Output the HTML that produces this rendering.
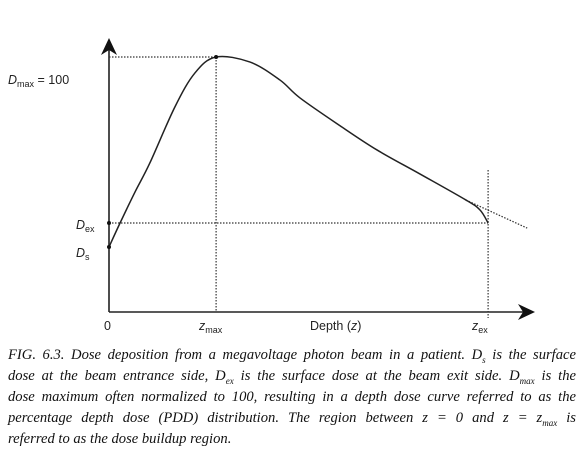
<!DOCTYPE html>
<html><head><meta charset="utf-8"><style>
body{margin:0;width:588px;height:447px;background:#fff;overflow:hidden;position:relative}
svg{position:absolute;left:0;top:0}
.cap{position:absolute;left:8px;width:568px;font-family:"Liberation Serif",serif;font-style:italic;font-size:14.6px;color:#111}
.cap div{height:21px;line-height:21px;text-align:justify;text-align-last:justify;white-space:nowrap}
.cap div.last{text-align-last:left}
</style></head><body>
<svg width="588" height="340" font-family="Liberation Sans, sans-serif" fill="#222">
<g id="axes"></g>
<g id="marks"></g>
<text x="8" y="84" font-size="12.5"><tspan font-style="italic">D</tspan><tspan font-size="9" dy="3">max</tspan><tspan dy="-3"> = 100</tspan></text>
<text x="76" y="229" font-size="12.5"><tspan font-style="italic">D</tspan><tspan font-size="9" dy="3">ex</tspan></text>
<text x="76" y="257" font-size="12.5"><tspan font-style="italic">D</tspan><tspan font-size="9" dy="3">s</tspan></text>
<text x="104" y="330" font-size="12.5">0</text>
<text x="199" y="330" font-size="12.5"><tspan font-style="italic">z</tspan><tspan font-size="9" dy="3">max</tspan></text>
<text x="310" y="330" font-size="12.5">Depth (<tspan font-style="italic">z</tspan>)</text>
<text x="472" y="330" font-size="12.5"><tspan font-style="italic">z</tspan><tspan font-size="9" dy="3">ex</tspan></text>
</svg>
<div class="cap" style="top:345px">
<div>FIG. 6.3. Dose deposition from a megavoltage photon beam in a patient. D<sub style="font-size:9px">s</sub> is the surface</div>
<div>dose at the beam entrance side, D<sub style="font-size:9px">ex</sub> is the surface dose at the beam exit side. D<sub style="font-size:9px">max</sub> is the</div>
<div>dose maximum often normalized to 100, resulting in a depth dose curve referred to as the</div>
<div>percentage depth dose (PDD) distribution. The region between z = 0 and z = z<sub style="font-size:9px">max</sub> is</div>
<div class="last">referred to as the dose buildup region.</div>
</div>
<script>
const depths=[0,2.6,6.1,9.6,15.5,20.2,25.2,33.2,40.2,44.9,54.4,63.1,73.2,84,87.3,89.2];
const doses=[25.5,34.9,47,58.4,80.4,93.7,100,98,91,84,73,63.5,54.1,43.9,40,34.9];
const extDepths=[84,98.4];
const extDoses=[43.9,32.9];
const dMax=100, dEx=34.9, dS=25.5, zMax=25.2, zEx=89.2;
const X=d=>109+d*4.25, Y=v=>312-v*2.55;
const NS='http://www.w3.org/2000/svg';
function mk(p,t,a){const e=document.createElementNS(NS,t);for(const k in a)e.setAttribute(k,a[k]);p.appendChild(e);return e;}
function smooth(pts){let d='M'+pts[0][0]+','+pts[0][1];for(let i=0;i<pts.length-1;i++){const p0=pts[i-1]||pts[i],p1=pts[i],p2=pts[i+1],p3=pts[i+2]||p2;const c1=[p1[0]+(p2[0]-p0[0])/6,p1[1]+(p2[1]-p0[1])/6],c2=[p2[0]-(p3[0]-p1[0])/6,p2[1]-(p3[1]-p1[1])/6];d+=' C'+c1+' '+c2+' '+p2;}return d;}
const ax=document.getElementById('axes'), mg=document.getElementById('marks');
let e;
e=mk(ax,'line',{x1:109,y1:312,x2:109,y2:48,stroke:'#222','stroke-width':1.6});


e=mk(ax,'path',{d:'M109,38 L101,55 L109,50 L117,55 Z',fill:'#111'});


e=mk(ax,'line',{x1:109,y1:312,x2:526,y2:312,stroke:'#222','stroke-width':1.6});


e=mk(ax,'path',{d:'M535,312 L518,304 L523,312 L518,320 Z',fill:'#111'});


const dot={stroke:'#333','stroke-width':1.2,'stroke-dasharray':'1.5 1.5',fill:'none'};
e=mk(mg,'line',Object.assign({x1:109,y1:Y(dMax),x2:X(zMax),y2:Y(dMax)},dot));


e=mk(mg,'line',Object.assign({x1:X(zMax),y1:Y(dMax),x2:X(zMax),y2:312},dot));


e=mk(mg,'line',Object.assign({x1:109,y1:Y(dEx),x2:X(zEx),y2:Y(dEx)},dot));


e=mk(mg,'line',Object.assign({x1:X(zEx),y1:170,x2:X(zEx),y2:318},dot));


e=mk(mg,'polyline',Object.assign({points:extDepths.map((d,i)=>X(d)+','+Y(extDoses[i])).join(' ')},dot));


e=mk(mg,'path',{d:smooth(depths.map((d,i)=>[X(d),Y(doses[i])])),fill:'none',stroke:'#222','stroke-width':1.5,'stroke-linejoin':'round'});


[[0,dS,'ds-point'],[0,dEx,'dex-point'],[zMax,dMax,'dmax-point']].forEach(p=>{
 const c=mk(mg,'circle',{cx:X(p[0]),cy:Y(p[1]),r:2,fill:'#111'});
 
 
});
</script>
</body></html>
